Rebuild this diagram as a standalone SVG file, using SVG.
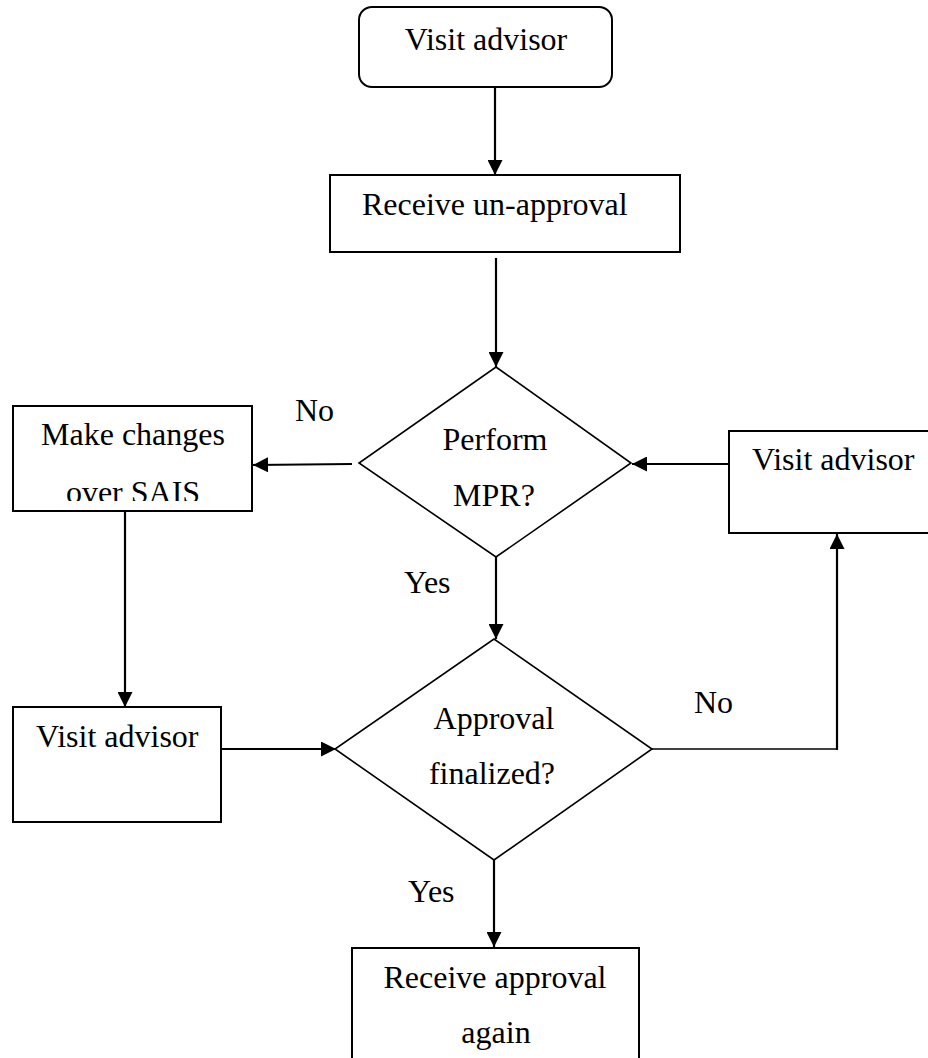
<svg xmlns="http://www.w3.org/2000/svg" width="928" height="1058" viewBox="0 0 928 1058">
<style>
.box{fill:#fff;stroke:#000;stroke-width:2}
.dia{fill:#fff;stroke:#000;stroke-width:1.6}
.t{font-family:"Liberation Serif","Times New Roman",serif;font-size:32px;fill:#000}
.c{text-anchor:middle}
.ln{fill:none;stroke:#000;stroke-width:2.2}
</style>
<defs>
<marker id="ah" markerUnits="userSpaceOnUse" markerWidth="15" markerHeight="15" refX="15" refY="7.5" orient="auto" viewBox="0 0 15 15">
<path d="M0,0 L15,7.5 L0,15 Z" fill="#000"/>
</marker>
<clipPath id="clipSAIS"><rect x="13" y="406" width="239" height="95"/></clipPath>
</defs>
<rect width="928" height="1058" fill="#fff"/>
<g id="connectors">
<line class="ln" x1="495" y1="87" x2="495" y2="175" marker-end="url(#ah)"/>
<line class="ln" x1="496" y1="258" x2="496" y2="367" marker-end="url(#ah)"/>
<line class="ln" x1="352" y1="464" x2="253" y2="465" marker-end="url(#ah)"/>
<line class="ln" x1="729" y1="464" x2="632" y2="464" marker-end="url(#ah)"/>
<line class="ln" x1="125" y1="511" x2="125" y2="707" marker-end="url(#ah)"/>
<line class="ln" x1="221" y1="749" x2="336" y2="749" marker-end="url(#ah)"/>
<line class="ln" x1="496" y1="557" x2="496" y2="639" marker-end="url(#ah)"/>
<polyline fill="none" stroke="#000" stroke-width="1.6" points="652,749 837,749"/>
<line class="ln" x1="837" y1="750" x2="837" y2="534" marker-end="url(#ah)"/>
<line class="ln" x1="494" y1="860" x2="494" y2="947" marker-end="url(#ah)"/>
<text class="t" x="295" y="421">No</text>
<text class="t" x="404" y="593">Yes</text>
<text class="t" x="694" y="713">No</text>
<text class="t" x="408" y="902">Yes</text>
</g>
<g id="start">
<rect class="box" x="359" y="7" width="253" height="80" rx="13"/>
<text class="t c" x="486" y="50">Visit advisor</text>
</g>
<g id="receive-unapproval">
<rect class="box" x="330" y="175" width="350" height="77"/>
<text class="t" x="362" y="215">Receive un-approval</text>
</g>
<g id="perform-mpr">
<polygon class="dia" points="496,367 631,463 496,557 359,463"/>
<text class="t c" x="495" y="450">Perform</text>
<text class="t c" x="494" y="506">MPR?</text>
</g>
<g id="make-changes">
<rect class="box" x="13" y="406" width="239" height="105"/>
<text class="t c" x="133" y="445">Make changes</text>
<text class="t c" x="133" y="503" clip-path="url(#clipSAIS)">over SAIS</text>
</g>
<g id="visit-advisor-right">
<rect class="box" x="729" y="431" width="210" height="102"/>
<text class="t" x="752" y="470">Visit advisor</text>
</g>
<g id="visit-advisor-left">
<rect class="box" x="13" y="707" width="208" height="115"/>
<text class="t" x="36" y="747">Visit advisor</text>
</g>
<g id="approval-finalized">
<polygon class="dia" points="494,639 652,749 494,860 335,749"/>
<text class="t c" x="494" y="729">Approval</text>
<text class="t c" x="492" y="784">finalized?</text>
</g>
<g id="receive-approval-again">
<rect class="box" x="352" y="948" width="287" height="120"/>
<text class="t c" x="495" y="988">Receive approval</text>
<text class="t c" x="496" y="1043">again</text>
</g>
</svg>
